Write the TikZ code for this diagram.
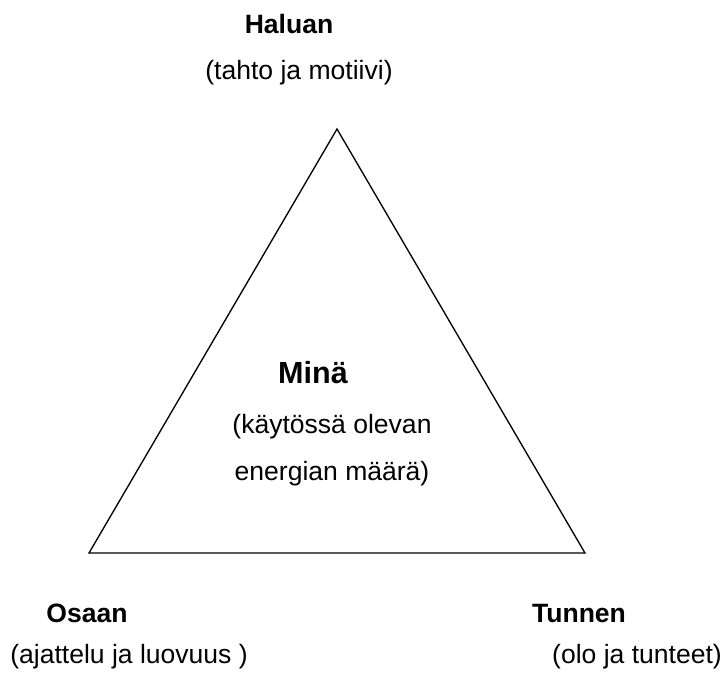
\documentclass[tikz,border=0pt]{standalone}
\usepackage{fontspec}
\setmainfont{Liberation Sans}
\usepackage{tikz}

\begin{document}
\begin{tikzpicture}[x=0.75pt,y=-0.75pt]

\tikzset{TitleStyle/.style={anchor=base,inner sep=0pt,font=\fontsize{19.9}{24}\selectfont\bfseries},
         NoteStyle/.style={anchor=base,inner sep=0pt,font=\fontsize{19.9}{24}\selectfont},
         CenterStyle/.style={anchor=base,inner sep=0pt,font=\fontsize{22.9}{27}\selectfont\bfseries}}
  \useasboundingbox (0,0) rectangle (725,672);

  \coordinate (top) at (337, 129);
  \coordinate (left) at (89, 553);
  \coordinate (right) at (585, 553);

  \node[TitleStyle] (h1) at (289, 33) {Haluan};
  \node[NoteStyle] (h2) at (299, 79) {(tahto ja motiivi)};

  \node[CenterStyle] (m1) at (313, 383) {Minä};
  \node[NoteStyle] (m2) at (332, 433) {(käytössä olevan};
  \node[NoteStyle] (m3) at (332, 480) {energian määrä)};

  \node[TitleStyle] (o1) at (87, 622) {Osaan};
  \node[NoteStyle] (o2) at (129, 663) {(ajattelu ja luovuus )};

  \node[TitleStyle] (t1) at (579, 622) {Tunnen};
  \node[NoteStyle] (t2) at (637, 663) {(olo ja tunteet)};

  \draw[line width=1pt] (top) -- (left) -- (right) -- cycle;

\end{tikzpicture}
\end{document}
